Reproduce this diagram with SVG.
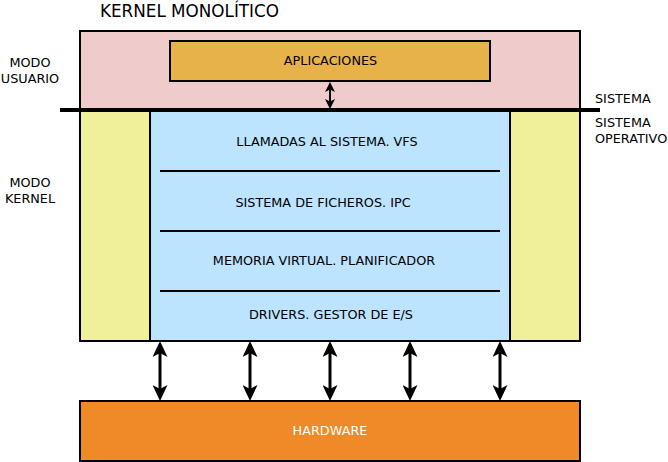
<svg xmlns="http://www.w3.org/2000/svg" width="668" height="462" viewBox="0 0 668 462">
<style>
text{font-family:"DejaVu Sans",sans-serif;font-size:12.8px;fill:#000}
.c{text-anchor:middle}
.b{stroke:#000;stroke-width:2}
.sep{stroke:#000;stroke-width:2}
.ar{stroke:#000;stroke-width:3;fill:none;marker-start:url(#ah);marker-end:url(#ah)}
</style>
<defs>
<marker id="ah" viewBox="0 0 16 15" refX="12" refY="7.5" markerWidth="16" markerHeight="15" orient="auto-start-reverse" markerUnits="userSpaceOnUse">
<path d="M0,0 L16,7.5 L0,15 L4,7.5 Z" fill="#000"/>
</marker>
<marker id="ahs" viewBox="0 0 10 10" refX="7" refY="5" markerWidth="10" markerHeight="10" orient="auto-start-reverse" markerUnits="userSpaceOnUse">
<path d="M0,0 L10,5 L0,10 L2.5,5 Z" fill="#000"/>
</marker>
</defs>
<text x="100" y="17" style="font-size:16.8px">KERNEL MONOLÍTICO</text>
<g id="modo-usuario"><text class="c" x="30" y="67">MODO</text><text class="c" x="30" y="82.5">USUARIO</text></g>
<g id="modo-kernel"><text class="c" x="30" y="187">MODO</text><text class="c" x="30" y="202.5">KERNEL</text></g>
<g id="sistema"><text x="595" y="103">SISTEMA</text></g>
<g id="sistema-operativo"><text x="595" y="127">SISTEMA</text><text x="595" y="142.5">OPERATIVO</text></g>
<g id="usuario-area"><rect class="b" x="80" y="31" width="500" height="79" fill="#efcbcb"/></g>
<g id="kernel-area"><rect class="b" x="80" y="110" width="500" height="231" fill="#f0f09a"/></g>
<g id="kernel-core">
<rect class="b" x="150" y="110" width="360" height="231" fill="#bde4ff"/>
<line class="sep" x1="160" y1="171" x2="500" y2="171"/>
<line class="sep" x1="160" y1="231" x2="500" y2="231"/>
<line class="sep" x1="160" y1="291" x2="500" y2="291"/>
<text class="c" x="327" y="146">LLAMADAS AL SISTEMA. VFS</text>
<text class="c" x="323" y="206.5">SISTEMA DE FICHEROS. IPC</text>
<text class="c" x="324" y="265">MEMORIA VIRTUAL. PLANIFICADOR</text>
<text class="c" x="331" y="319">DRIVERS. GESTOR DE E/S</text>
</g>
<g id="aplicaciones"><rect class="b" x="170" y="41" width="320" height="40" fill="#e8b24a"/><text class="c" x="330.5" y="65">APLICACIONES</text></g>
<g id="hardware"><rect class="b" x="80" y="401" width="500" height="60" fill="#ee8a27"/><text class="c" x="330" y="434.5" style="fill:#fff">HARDWARE</text></g>
<g id="connectors">
<line x1="60" y1="110" x2="600" y2="110" stroke="#000" stroke-width="4"/>
<line x1="330" y1="85" x2="330" y2="106" stroke="#000" stroke-width="2" marker-start="url(#ahs)" marker-end="url(#ahs)"/>
<line class="ar" x1="160" y1="345" x2="160" y2="397"/>
<line class="ar" x1="250" y1="345" x2="250" y2="397"/>
<line class="ar" x1="330" y1="345" x2="330" y2="397"/>
<line class="ar" x1="410" y1="345" x2="410" y2="397"/>
<line class="ar" x1="500" y1="345" x2="500" y2="397"/>
</g>
</svg>
